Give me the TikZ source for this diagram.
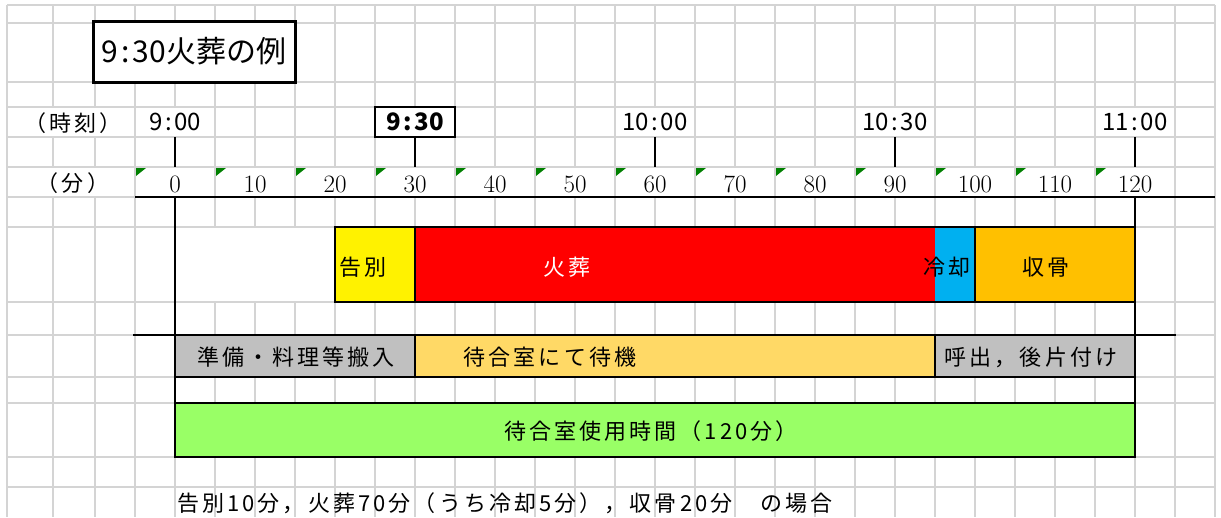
\documentclass[tikz,border=0pt]{standalone}
\usepackage{fontspec}
\newfontfamily\jp{Noto Sans CJK JP}
\newfontfamily\jpw{Noto Sans CJK JP}[LetterSpace=14]
\definecolor{gridgray}{RGB}{212,212,212}
\definecolor{flag}{RGB}{0,128,0}
\definecolor{cool}{RGB}{0,176,240}
\definecolor{bone}{RGB}{255,192,0}
\definecolor{waitc}{RGB}{255,217,102}
\definecolor{prep}{RGB}{192,192,192}
\definecolor{room}{RGB}{153,255,102}
\newcommand\hm[2]{#1\hspace{2.5pt}:\hspace{2.5pt}#2}

\begin{document}
\begin{tikzpicture}[x=1pt,y=-1pt,
    grid/.style={draw=gridgray,line width=1.4pt},
    axis/.style={draw=black,line width=1.8pt},
    bar/.style={draw=black,line width=1.8pt},
    lbl/.style={font=\jpw\fontsize{22}{26}\selectfont,inner sep=0pt},
    hlbl/.style={font=\jpw\fontsize{22}{26}\selectfont,inner sep=0pt},
    tlbl/.style={font=\jp\fontsize{24}{28}\selectfont,inner sep=0pt},
    mlbl/.style={font=\fontsize{25}{25}\selectfont,inner sep=0pt}]
  \clip (0,0) rectangle (1221,517);
  \fill[white] (0,0) rectangle (1221,517);

  % sheet grid
  \foreach \x in {7,53,95}
    \draw[grid] (\x,5) -- (\x,517);
  \foreach \x in {135,175,...,1215}
    \draw[grid] (\x,5) -- (\x,517);
  \foreach \y in {5,23,82,107,137,167,197,227,302,335,377,403,457,487}
    \draw[grid] (7,\y) -- (1215,\y);

  % merged cells
  \fill[white] (8,108) rectangle (134,136);
  \fill[white] (8,168) rectangle (134,196);
  \foreach \x in {175,655,895,1135}
    \fill[white] (\x-39,108) rectangle (\x+39,136);
  \foreach \x in {175,255,...,1135}
    \fill[white] (\x-39,168) rectangle (\x+39,196);
  \fill[white] (176,228) rectangle (334,301);

  \node[draw,line width=3pt,fill=white,minimum width=202pt,minimum height=61pt,
        inner sep=0pt,font=\jp\fontsize{30}{34}\selectfont] (title) at (194,51.5)
        {9\hspace{3pt}:\hspace{3pt}30火葬の例};

  \node[hlbl] (jikoku) at (73,123) {（時刻）};
  \node[hlbl] (fun) at (73,183) {（分）};

  \foreach \x/\h/\m in {175/9/00,655/10/00,895/10/30,1135/11/00}
    \node[tlbl] (clk\x) at (\x,122) {\hm{\h}{\m}};
  \node[tlbl,font=\jp\bfseries\fontsize{24}{28}\selectfont,draw,line width=1.8pt,
        fill=white,minimum width=80pt,minimum height=30pt] (clk415) at (415,122)
        {\hm{9}{30}};

  \foreach \x in {135,215,...,1095}
    \fill[flag] (\x+1,168) -- ++(10,0) -- ++(-10,8) -- cycle;
  \foreach \m in {0,10,...,120}
    \node[mlbl] (min\m) at ({175+8*\m},184) {\m};

  % axes
  \draw[axis] (135,197) -- (1215,197);
  \draw[axis] (133,335) -- (1176,335);
  \foreach \x in {175,415,655,895,1135}
    \draw[axis] (\x,137) -- (\x,167);
  \draw[axis] (175,197) -- (175,457);
  \draw[axis] (1135,197) -- (1135,457);

  % cremation bar
  \fill[yellow] (335,227) rectangle (415,302);
  \fill[red] (415,227) rectangle (935,302);
  \fill[cool] (935,227) rectangle (975,302);
  \fill[bone] (975,227) rectangle (1135,302);
  \draw[bar] (335,227) rectangle (1135,302);
  \draw[bar] (415,227) -- (415,302);
  \draw[bar] (975,227) -- (975,302);
  \node[lbl,anchor=west] (kokubetsu) at (339,267) {告別};
  \node[lbl,text=white] (kaso) at (567,267) {火葬};
  \node[lbl] (reikyaku) at (947,267) {冷却};
  \node[lbl] (shukotsu) at (1046,267) {収骨};

  % waiting room bar
  \filldraw[bar,fill=prep] (175,335) rectangle (415,377);
  \filldraw[bar,fill=waitc] (415,335) rectangle (935,377);
  \filldraw[bar,fill=prep] (935,335) rectangle (1135,377);
  \node[lbl] (junbi) at (296,357) {準備・料理等搬入};
  \node[lbl] (taiki) at (550,357) {待合室にて待機};
  \node[lbl] (yobidashi) at (1031,357) {呼出，後片付け};

  \filldraw[bar,fill=room] (175,403) rectangle (1135,457);
  \node[lbl] (shiyo) at (651,431) {待合室使用時間（120分）};

  \node[lbl,anchor=base west] (note) at (177,511)
    {告別10分，火葬70分（うち冷却5分），収骨20分　の場合};
\end{tikzpicture}
\end{document}
